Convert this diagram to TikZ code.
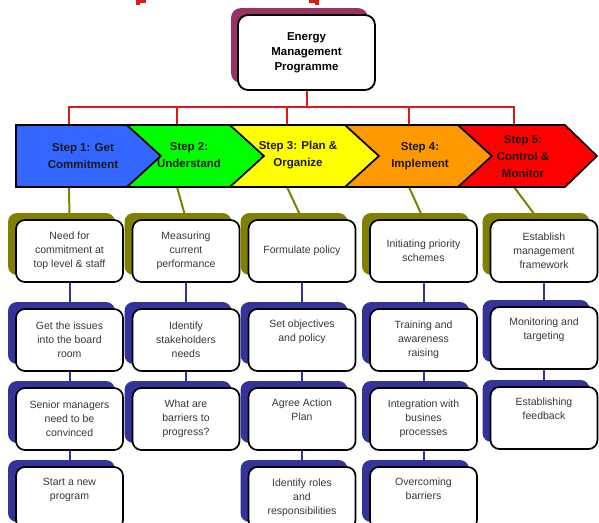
\documentclass[tikz,border=0pt]{standalone}
\usepackage{fontspec}
\setmainfont{Liberation Sans}
\usetikzlibrary{shadows,backgrounds}
\definecolor{plumC}{HTML}{993366}
\definecolor{oliveC}{HTML}{808000}
\definecolor{navyC}{HTML}{333399}
\definecolor{redL}{HTML}{DD1A1A}
\definecolor{blueA}{HTML}{3366FF}
\definecolor{greenA}{HTML}{00FF00}
\definecolor{yellowA}{HTML}{FFFF00}
\definecolor{orangeA}{HTML}{FF9900}
\definecolor{redA}{HTML}{FF0000}
\definecolor{txtC}{HTML}{383838}
\tikzset{
  boxbase/.style={draw=black, line width=1.7pt, fill=white, rounded corners=9pt,
    minimum width=107pt, minimum height=62pt, inner sep=0pt, align=center,
    text=txtC, font=\fontsize{10.5}{14}\selectfont},
  rowone/.style={boxbase, general shadow={shadow xshift=-8pt, shadow yshift=7pt, fill=oliveC}},
  rowrest/.style={boxbase, general shadow={shadow xshift=-8pt, shadow yshift=7pt, fill=navyC}},
  topbox/.style={draw=black, line width=1.8pt, fill=white, rounded corners=10pt,
    minimum width=137pt, minimum height=75pt, inner sep=0pt, align=center,
    font=\bfseries\fontsize{11.5}{15}\selectfont,
    general shadow={shadow xshift=-7pt, shadow yshift=7pt, fill=plumC}},
  chev/.style={draw=black, line width=1.6pt, line join=miter},
  steptext/.style={align=center, font=\bfseries\fontsize{11.5}{17}\selectfont, text=black!90},
  redline/.style={draw=redL, line width=2pt},
  oliveline/.style={draw=oliveC, line width=2pt},
  navyline/.style={draw=navyC, line width=2pt},
}
\begin{document}
\begin{tikzpicture}[x=1pt,y=-1pt]
\path[use as bounding box, clip] (0,0) rectangle (599,522);
% cut-off red marks at top edge
\fill[redL] (136,0) rectangle (146,3);
\fill[redL] (136,0) rectangle (140,5);
\fill[redL] (309,0) rectangle (319,3);
\fill[redL] (315,0) rectangle (319,5);

% top node
\node[topbox] (emp) at (306.5,52.5) {Energy\\Management\\Programme};

% chevrons
\filldraw[chev, fill=blueA] (16,125) -- (127,125) -- (161,156) -- (127,187) -- (16,187) -- cycle;
\filldraw[chev, fill=greenA] (127,125) -- (230,125) -- (264,156) -- (230,187) -- (127,187) -- (161,156) -- cycle;
\filldraw[chev, fill=yellowA] (230,125) -- (345,125) -- (379,156) -- (345,187) -- (230,187) -- (264,156) -- cycle;
\filldraw[chev, fill=orangeA] (345,125) -- (458,125) -- (492,156) -- (458,187) -- (345,187) -- (379,156) -- cycle;
\filldraw[chev, fill=redA] (458,125) -- (565,125) -- (597,156) -- (565,187) -- (458,187) -- (492,156) -- cycle;

\node[steptext] (st1) at (83,156) {Step 1: Get\\Commitment};
\node[steptext] (st2) at (189,155) {Step 2:\\Understand};
\node[steptext] (st3) at (298,155) {Step 3: Plan \&\\Organize};
\node[steptext] (st4) at (420,156) {Step 4:\\Implement};
\node[steptext] (st5) at (523,157) {Step 5:\\Control \&\\Monitor};

% attachment points on the arrow band
\coordinate (bus) at (0,107);
\coordinate (d1) at (69,125);  \coordinate (u1) at (69,187);
\coordinate (d2) at (177,125); \coordinate (u2) at (177,187);
\coordinate (d3) at (287,125); \coordinate (u3) at (287,187);
\coordinate (d4) at (409,125); \coordinate (u4) at (409,187);
\coordinate (d5) at (514,125); \coordinate (u5) at (514,187);

% boxes
\node[rowone]  (b11) at (69.5,251) {Need for\\commitment at\\top level \& staff};
\node[rowrest] (b12) at (69.5,340) {Get the issues\\into the board\\room};
\node[rowrest] (b13) at (69.5,419) {Senior managers\\need to be\\convinced};
\node[rowrest] (b14) at (69.5,498) {Start a new\\program\\\strut};

\node[rowone]  (b21) at (186,251) {Measuring\\current\\performance};
\node[rowrest] (b22) at (186,340) {Identify\\stakeholders\\needs};
\node[rowrest] (b23) at (186,419) {What are\\barriers to\\progress?};

\node[rowone]  (b31) at (302,251) {Formulate policy};
\node[rowrest] (b32) at (302,340) {Set objectives\\and policy\\\strut};
\node[rowrest] (b33) at (302,419) {Agree Action\\Plan\\\strut};
\node[rowrest] (b34) at (302,498) {Identify roles\\and\\responsibilities};

\node[rowone]  (b41) at (423.5,251) {Initiating priority\\schemes};
\node[rowrest] (b42) at (423.5,340) {Training and\\awareness\\raising};
\node[rowrest] (b43) at (423.5,419) {Integration with\\busines\\processes};
\node[rowrest] (b44) at (423.5,498) {Overcoming\\barriers\\\strut};

\node[rowone]  (b51) at (544,251) {Establish\\management\\framework};
\node[rowrest] (b52) at (544,338) {Monitoring and\\targeting\\\strut};
\node[rowrest] (b53) at (544,418) {Establishing\\feedback\\\strut};

\begin{pgfonlayer}{background}
  \foreach \d in {d1,d2,d3,d4,d5}
    \draw[redline] (emp.south) -- (emp.south |- bus) -| (\d);
  \draw[oliveline] (u1) -- (b11.north);
  \draw[oliveline] (u2) -- (b21.north);
  \draw[oliveline] (u3) -- (b31.north);
  \draw[oliveline] (u4) -- (b41.north);
  \draw[oliveline] (u5) -- ([xshift=-6pt]b51.north);
  \draw[navyline] (b11) -- (b12);
  \draw[navyline] (b12) -- (b13);
  \draw[navyline] (b13) -- (b14);
  \draw[navyline] (b21) -- (b22);
  \draw[navyline] (b22) -- (b23);
  \draw[navyline] (b31) -- (b32);
  \draw[navyline] (b32) -- (b33);
  \draw[navyline] (b33) -- (b34);
  \draw[navyline] (b41) -- (b42);
  \draw[navyline] (b42) -- (b43);
  \draw[navyline] (b43) -- (b44);
  \draw[navyline] (b51) -- (b52);
  \draw[navyline] (b52) -- (b53);
\end{pgfonlayer}
\end{tikzpicture}
\end{document}
